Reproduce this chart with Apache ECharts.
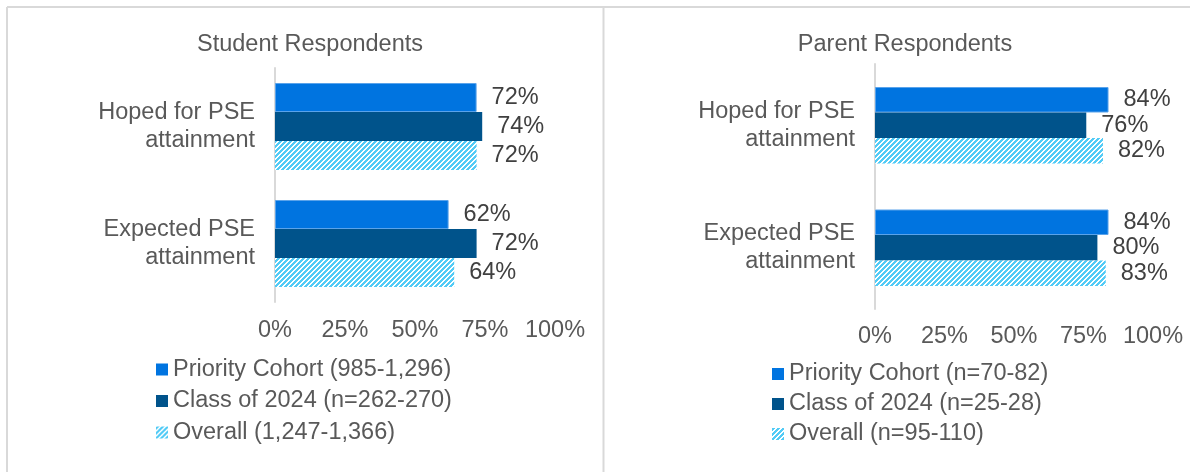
<!DOCTYPE html>
<html>
<head>
<meta charset="utf-8">
<script src="https://cdn.jsdelivr.net/npm/echarts@6/dist/echarts.min.js"></script>
<style>
  html, body { margin: 0; padding: 0; background: #fff; }
  #chart { width: 1190px; height: 472px; }
</style>
</head>
<body>
<div id="chart"></div>
<script>
// categories shared by both panels
var categories = ['Hoped for PSE\nattainment', 'Expected PSE\nattainment'];
var tickValues = [0, 25, 50, 75, 100];

// student panel
var studentTitle = 'Student Respondents';
var studentNames = ['Priority Cohort (985-1,296)', 'Class of 2024 (n=262-270)', 'Overall (1,247-1,366)'];
var studentPriority = [72, 62];
var studentClass = [74, 72];
var studentOverall = [72, 64];

// parent panel
var parentTitle = 'Parent Respondents';
var parentNames = ['Priority Cohort (n=70-82)', 'Class of 2024 (n=25-28)', 'Overall (n=95-110)'];
var parentPriority = [84, 84];
var parentClass = [76, 80];
var parentOverall = [82, 83];

var FONT = '"Liberation Sans", Arial, sans-serif';
var GRAY = '#595959';
var FS = 23.5;

// hatched fill for the "Overall" bars
function makeHatch() {
  var n = 5;
  var c = document.createElement('canvas');
  c.width = n; c.height = n;
  var ctx = c.getContext('2d');
  ctx.fillStyle = '#ffffff';
  ctx.fillRect(0, 0, n, n);
  ctx.fillStyle = '#52cbf6';
  for (var x = 0; x < n; x++) {
    for (var y = 0; y < n; y++) {
      if ((x + y) % n < 3) ctx.fillRect(x, y, 1, 1);
    }
  }
  return { image: c, repeat: 'repeat' };
}
var hatch = makeHatch();

var chart = echarts.init(document.getElementById('chart'), null, { renderer: 'canvas' });

function makeSeries(names, vals, axisIdx, barW) {
  var fills = ['#0074e0', '#00538b', hatch];
  var borders = ['#5aa3ea', '#00538b', 'rgba(0,0,0,0)'];
  return vals.map(function (v, i) {
    return {
      name: names[i],
      type: 'bar',
      xAxisIndex: axisIdx,
      yAxisIndex: axisIdx,
      barWidth: barW,
      barGap: '0%',
      data: v,
      itemStyle: { color: fills[i], borderColor: borders[i], borderWidth: i === 0 ? 1 : 0 },
      label: {
        show: true,
        position: 'right',
        distance: 15,
        formatter: '{c}%',
        color: '#404040',
        fontSize: FS,
        fontFamily: FONT
      }
    };
  });
}

function valueAxis(idx, margin) {
  return {
    type: 'value',
    gridIndex: idx,
    min: 0,
    max: 100,
    interval: 25,
    axisLine: { show: false },
    axisTick: { show: false },
    splitLine: { show: false },
    axisLabel: {
      margin: margin,
      color: GRAY,
      fontSize: FS,
      fontFamily: FONT,
      formatter: function (v) { return tickValues.indexOf(v) >= 0 ? v + '%' : ''; }
    }
  };
}

function catAxis(idx) {
  return {
    type: 'category',
    gridIndex: idx,
    data: categories,
    inverse: true,
    axisLine: { show: true, lineStyle: { color: '#d9d9d9', width: 2 } },
    axisTick: { show: false },
    axisLabel: {
      margin: 20,
      color: GRAY,
      fontSize: FS,
      lineHeight: 28,
      fontFamily: FONT,
      align: 'right'
    }
  };
}

function legendFor(names, left, top, gap) {
  return {
    data: names,
    orient: 'vertical',
    left: left,
    top: top,
    icon: 'rect',
    itemWidth: 12,
    itemHeight: 12,
    itemGap: gap,
    selectedMode: false,
    itemStyle: { borderWidth: 0 },
    textStyle: { color: GRAY, fontSize: FS, fontFamily: FONT, lineHeight: 24 }
  };
}

var option = {
  animation: false,
  backgroundColor: '#ffffff',
  title: [
    { text: studentTitle, left: 305, top: 28, textAlign: 'center',
      textStyle: { color: GRAY, fontSize: FS, fontWeight: 'normal', fontFamily: FONT } },
    { text: parentTitle, left: 900, top: 28, textAlign: 'center',
      textStyle: { color: GRAY, fontSize: FS, fontWeight: 'normal', fontFamily: FONT } }
  ],
  legend: [
    legendFor(studentNames, 151, 352.5, 7.5),
    legendFor(parentNames, 767, 357, 6)
  ],
  grid: [
    { left: 275, width: 280, top: 68, height: 234 },
    { left: 875, width: 278, top: 64, height: 245 }
  ],
  xAxis: [valueAxis(0, 17), valueAxis(1, 16)],
  yAxis: [catAxis(0), catAxis(1)],
  series: makeSeries(studentNames, [studentPriority, studentClass, studentOverall], 0, 29)
    .concat(makeSeries(parentNames, [parentPriority, parentClass, parentOverall], 1, 25.5)),
  graphic: [
    { type: 'line', shape: { x1: 7, y1: 7, x2: 1190, y2: 7 }, style: { stroke: '#d9d9d9', lineWidth: 2 } },
    { type: 'line', shape: { x1: 7, y1: 7, x2: 7, y2: 472 }, style: { stroke: '#d9d9d9', lineWidth: 2 } },
    { type: 'line', shape: { x1: 603.5, y1: 7, x2: 603.5, y2: 472 }, style: { stroke: '#d9d9d9', lineWidth: 2 } }
  ]
};

chart.setOption(option);
</script>
</body>
</html>
